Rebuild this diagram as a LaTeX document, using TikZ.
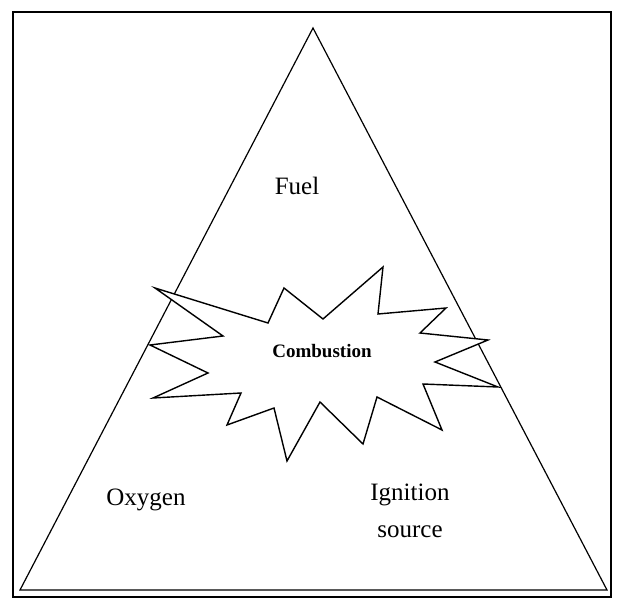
\documentclass[tikz,border=0pt]{standalone}
\usepackage{fontspec}
\setmainfont{Liberation Serif}
\begin{document}
\begin{tikzpicture}[x=1pt,y=-1pt,line width=1.3pt,
  lbl/.style={font=\fontsize{25}{29}\selectfont,align=center}]
\useasboundingbox (0,0) rectangle (622,607);
\draw[line width=2pt] (13,12) rectangle (611,597);
\draw[line width=1.2pt] (313,28) -- (607,590) -- (20,590) -- cycle;
\draw[fill=white,line width=1.4pt] (155,288) -- (268,323) -- (284,288) -- (323,319) -- (383,267) -- (378,314) -- (446,308) -- (420,333) -- (488,340) -- (435,362) -- (498,387) -- (423,384) -- (442,430) -- (377,397) -- (363,444) -- (320,402) -- (287,461) -- (274,408) -- (227,425) -- (241,393) -- (153,398) -- (208,373) -- (150,345) -- (223,336) -- cycle;
\node[lbl] (fuel) at (297,186) {Fuel};
\node[font=\fontsize{19}{22}\selectfont\bfseries] (comb) at (322,351) {Combustion};
\node[lbl] (oxy) at (146,500) {Oxygen};
\node[lbl] (ign) at (410,511) {Ignition\\[8pt]source};
\end{tikzpicture}
\end{document}
